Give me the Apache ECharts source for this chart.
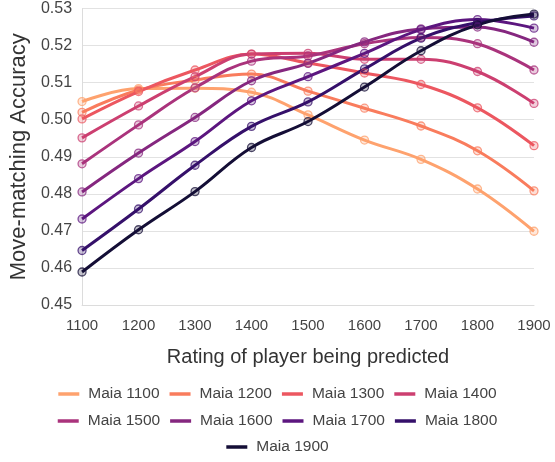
<!DOCTYPE html>
<html>
<head>
<meta charset="utf-8">
<script src="https://cdn.jsdelivr.net/npm/echarts@6/dist/echarts.min.js"></script>
<style>html,body{margin:0;padding:0;background:#fff}#c{width:555px;height:462px}</style>
</head>
<body>
<div id="c"></div>
<script>
const ratings = [1100, 1200, 1300, 1400, 1500, 1600, 1700, 1800, 1900];
const seriesNames = ['Maia 1100','Maia 1200','Maia 1300','Maia 1400','Maia 1500','Maia 1600','Maia 1700','Maia 1800','Maia 1900'];
const colors = ['#fea26e','#f97c5d','#ec5760','#cc3f70','#aa337c','#85277f','#5c167f','#35106a','#140e36'];
const maia1100 = [0.5049, 0.5084, 0.5085, 0.5074, 0.5013, 0.4945, 0.4893, 0.4813, 0.4699];
const maia1200 = [0.5020, 0.5080, 0.5107, 0.5123, 0.5077, 0.5031, 0.4983, 0.4916, 0.4808];
const maia1300 = [0.5002, 0.5076, 0.5134, 0.5177, 0.5153, 0.5126, 0.5095, 0.5032, 0.4930];
const maia1400 = [0.4951, 0.5037, 0.5116, 0.5177, 0.5179, 0.5163, 0.5163, 0.5130, 0.5044];
const maia1500 = [0.4881, 0.4986, 0.5086, 0.5158, 0.5172, 0.5205, 0.5222, 0.5205, 0.5134];
const maia1600 = [0.4805, 0.4910, 0.5006, 0.5105, 0.5152, 0.5210, 0.5245, 0.5250, 0.5209];
const maia1700 = [0.4732, 0.4841, 0.4941, 0.5051, 0.5116, 0.5179, 0.5243, 0.5270, 0.5247];
const maia1800 = [0.4647, 0.4759, 0.4877, 0.4982, 0.5048, 0.5137, 0.5220, 0.5262, 0.5280];
const maia1900 = [0.4589, 0.4703, 0.4806, 0.4925, 0.4995, 0.5088, 0.5186, 0.5256, 0.5285];
const allValues = [maia1100, maia1200, maia1300, maia1400, maia1500, maia1600, maia1700, maia1800, maia1900];
const legendRows = [[0, 1, 2, 3], [4, 5, 6, 7], [8]];

function hexA(h, a) {
  const r = parseInt(h.slice(1,3),16), g = parseInt(h.slice(3,5),16), b = parseInt(h.slice(5,7),16);
  return 'rgba(' + r + ',' + g + ',' + b + ',' + a + ')';
}
const FONT = 'Liberation Sans, Arial, sans-serif';
const chart = echarts.init(document.getElementById('c'), null, {renderer: 'canvas'});
const legendTops = [381, 408, 434];
chart.setOption({
  animation: false,
  backgroundColor: '#fff',
  textStyle: {fontFamily: FONT},
  grid: {left: 81, right: 21, top: 8.5, bottom: 157, containLabel: false},
  xAxis: {
    type: 'value', min: 1100, max: 1900, interval: 100,
    name: 'Rating of player being predicted', nameLocation: 'middle', nameGap: 42,
    nameTextStyle: {fontSize: 20, color: '#333', fontFamily: FONT},
    axisLine: {show: true, lineStyle: {color: '#dcdcdc'}},
    axisTick: {show: false},
    axisLabel: {fontSize: 15, color: '#444', margin: 13, fontFamily: FONT, formatter: v => String(v)},
    splitLine: {show: false}
  },
  yAxis: {
    type: 'value', min: 0.45, max: 0.53, interval: 0.01,
    name: 'Move-matching Accuracy', nameLocation: 'middle', nameGap: 51,
    nameTextStyle: {fontSize: 22, color: '#333', fontFamily: FONT},
    axisLine: {show: true, lineStyle: {color: '#dcdcdc'}},
    axisTick: {show: false},
    axisLabel: {fontSize: 16, color: '#444', margin: 10, fontFamily: FONT, formatter: v => v.toFixed(2)},
    splitLine: {show: true, lineStyle: {color: '#e2e2e2'}}
  },
  legend: legendRows.map((row, k) => ({
    top: legendTops[k], left: 'center',
    itemGap: 10, itemWidth: 21, itemHeight: 3.5, icon: 'rect',
    textStyle: {fontSize: 15.5, color: '#444', fontFamily: FONT, padding: [0, 0, 0, 4]},
    data: row.map(i => ({name: seriesNames[i], itemStyle: {color: colors[i], borderWidth: 0, opacity: 1}}))
  })),
  series: seriesNames.map((n, i) => ({
    name: n, type: 'line', smooth: 0.4,
    data: ratings.map((r, j) => [r, allValues[i][j]]),
    symbol: 'circle', symbolSize: 8,
    lineStyle: {width: 3, color: colors[i]},
    itemStyle: {color: hexA(colors[i], 0.25), borderColor: hexA(colors[i], 0.75), borderWidth: 1.3},
    color: colors[i]
  }))
});
</script>
</body>
</html>
